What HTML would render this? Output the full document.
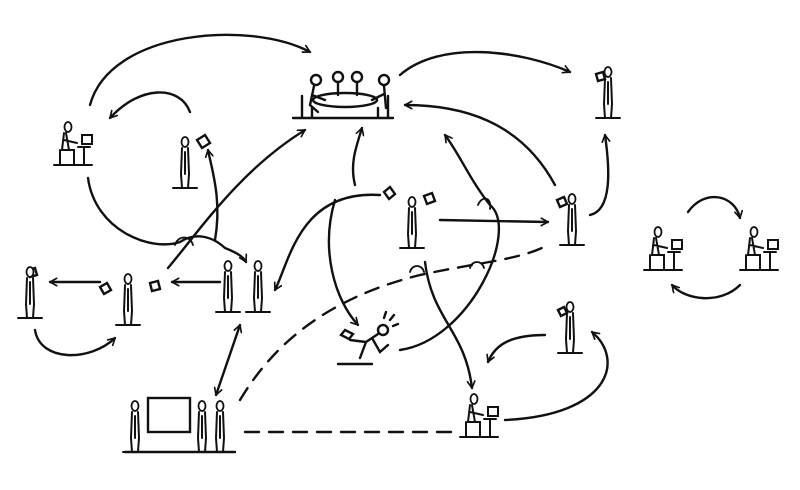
<!DOCTYPE html>
<html><head><meta charset="utf-8"><style>
html,body{margin:0;padding:0;background:#fff;width:800px;height:490px;overflow:hidden}
svg{display:block}
</style></head><body>
<svg width="800" height="490" viewBox="0 0 800 490" xmlns="http://www.w3.org/2000/svg">
<defs>
<marker id="a" viewBox="0 0 12 12" refX="10" refY="6" markerWidth="9" markerHeight="9" orient="auto-start-reverse" markerUnits="userSpaceOnUse">
<path d="M1,1 L10,6 L1,11" fill="none" stroke="#111" stroke-width="2.2" stroke-linecap="round" stroke-linejoin="round"/>
</marker>
<g id="p">
<ellipse cx="0" cy="-46" rx="3.5" ry="5" fill="#fff" stroke="#111" stroke-width="1.8"/>
<path d="M-3,-40 L-4,-14 M3,-40 L4,-14 M-4,-14 L-3,0 M4,-14 L3,0 M0,-36 L0,-14 M-12,0 L12,0" stroke="#111" stroke-width="2" fill="none" stroke-linecap="round"/>
</g>
<g id="c">
<ellipse cx="-4" cy="-38" rx="3.5" ry="5" fill="#fff" stroke="#111" stroke-width="1.8"/>
<path d="M-8,-32 L-10,-15 L2,-15 L2,0 M-6,-32 L-3,-15 M-8,-25 L5,-22 M-12,-15 L-12,0 M-18,0 L20,0 M12,0 L12,-18 M6,-18 L18,-18 M10,-30 h10 v9 h-10 z" stroke="#111" stroke-width="2" fill="none" stroke-linecap="round"/>
</g>
</defs>
<g stroke="#111" stroke-width="2.4" fill="none" stroke-linecap="round">
<ellipse cx="345" cy="100" rx="32" ry="7"/>
<path d="M293,118 L393,118 M302,118 L302,96 M388,118 L388,96 M312,118 v-10 M378,118 v-10"/>
<circle cx="316" cy="80" r="5"/><path d="M314,86 L310,105 L318,112 M312,95 L325,100"/>
<circle cx="338" cy="77" r="5"/><path d="M338,83 L338,95"/>
<circle cx="357" cy="77" r="5"/><path d="M357,83 L357,95"/>
<circle cx="384" cy="80" r="5"/><path d="M384,86 L386,108 M384,94 L372,100"/>
<rect x="148" y="398" width="42" height="34"/>
<path d="M125,452 L235,452"/>
<circle cx="383" cy="330" r="5"/><path d="M378,334 L366,342 L360,358 M366,342 L350,340 M372,338 L380,352 L388,345 M338,364 L372,364 M345,330 l8,4 l-4,5 l-8,-4z M384,318 l2,-6 M390,320 l4,-5 M393,326 l5,-2"/>
<path d="M197,140 l8,-5 l5,8 l-8,5z M384,192 l6,-5 l5,7 l-6,5z M424,196 l8,-3 l3,8 l-8,3z M100,287 l7,-4 l4,7 l-7,4z M150,283 l8,-2 l2,8 l-8,2z M28,270 l7,-2 l2,7 l-7,2z M596,74 l7,-2 l2,7 l-7,2z M557,200 l7,-3 l3,7 l-7,3z M558,310 l6,-3 l3,6 l-6,3z"/>
</g>
<use href="#p" transform="translate(608,118)"/>
<use href="#p" transform="translate(185,188)"/>
<use href="#p" transform="translate(412,248)"/>
<use href="#p" transform="translate(572,245)"/>
<use href="#p" transform="translate(30,318)"/>
<use href="#p" transform="translate(128,325)"/>
<use href="#p" transform="translate(228,312)"/>
<use href="#p" transform="translate(258,312)"/>
<use href="#p" transform="translate(570,353)"/>
<use href="#p" transform="translate(135,452)"/>
<use href="#p" transform="translate(202,452)"/>
<use href="#p" transform="translate(220,452)"/>
<use href="#c" transform="translate(72,165)"/>
<use href="#c" transform="translate(662,270)"/>
<use href="#c" transform="translate(758,270)"/>
<use href="#c" transform="translate(478,437)"/>
<g stroke="#111" stroke-width="2.4" fill="none" stroke-linecap="round" marker-end="url(#a)">
<path d="M90,105 C110,30 250,20 310,52"/>
<path d="M190,112 C180,85 140,85 110,118"/>
<path d="M88,178 C95,230 150,252 180,242 C195,232 212,236 225,248 C235,252 243,256 246,262"/>
<path d="M168,268 C200,230 240,170 305,130"/>
<path d="M215,240 C222,200 212,170 208,150"/>
<path d="M220,282 L172,282"/>
<path d="M100,282 L50,282"/>
<path d="M35,330 C40,362 90,362 115,338"/>
<path d="M240,325 L216,395" marker-start="url(#a)"/>
<path d="M380,195 C300,190 290,260 275,290"/>
<path d="M355,185 C350,165 355,150 362,128"/>
<path d="M335,200 C320,250 335,300 358,325"/>
<path d="M400,350 C470,340 520,230 490,205 C470,180 460,155 445,135"/>
<path d="M440,220 L548,222"/>
<path d="M555,185 C520,120 460,105 405,105"/>
<path d="M400,75 C440,40 520,50 570,72"/>
<path d="M590,215 C612,210 610,170 605,135"/>
<path d="M425,262 C432,320 465,330 472,388"/>
<path d="M545,335 C510,335 495,345 488,362"/>
<path d="M505,420 C610,415 625,360 592,332"/>
<path d="M688,212 C705,188 735,195 740,218"/>
<path d="M740,285 C720,305 685,300 672,285"/>
</g>
<g stroke="#111" stroke-width="2.4" fill="none" stroke-linecap="round" stroke-dasharray="14,10">
<path d="M240,400 C270,350 320,300 420,275 C480,262 520,260 548,245"/>
<path d="M245,432 L455,432"/>
</g>
<g stroke="#111" stroke-width="1.8" fill="none" stroke-linecap="round">
<path d="M410,272 c2,-8 12,-8 14,0 M470,268 c2,-8 12,-8 14,0 M175,245 c3,-10 15,-10 18,0 M478,205 c4,-10 14,-8 12,4"/>
</g>
</svg>
</body></html>
